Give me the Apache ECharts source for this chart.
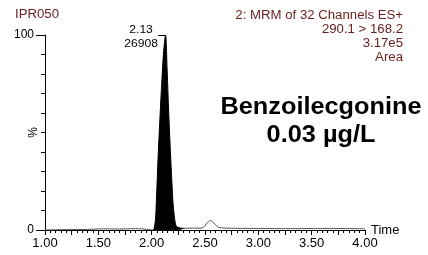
<!DOCTYPE html>
<html>
<head>
<meta charset="utf-8">
<script src="https://cdn.jsdelivr.net/npm/echarts@6/dist/echarts.min.js"></script>
<style>
  html, body { margin: 0; padding: 0; background: #fff; }
  #chart { width: 428px; height: 255px; }
</style>
</head>
<body>
<div id="chart"></div>
<script>
// retention time (min) / relative intensity (%)
var peakTimes  = [2.02, 2.035, 2.045, 2.06, 2.08, 2.095, 2.11, 2.13, 2.145, 2.16, 2.175, 2.19, 2.20, 2.215, 2.23, 2.26, 2.30];
var peakValues = [0, 5, 16, 37, 60, 76, 90, 100, 82, 60, 41, 24, 14, 6, 2, 1.2, 0.8];

var traceTimes  = [1.00, 1.20, 1.40, 1.55, 1.70, 1.85, 1.95, 2.02, 2.30, 2.38, 2.45, 2.49, 2.52, 2.55, 2.58, 2.61, 2.64, 2.75, 3.00, 3.30, 3.60, 3.90, 4.00];
var traceValues = [0, 0.2, 0.3, 0.6, 0.5, 0.7, 0.4, 0, 0.8, 1.0, 0.9, 1.6, 3.6, 4.8, 3.8, 2.0, 1.2, 0.9, 0.8, 0.7, 0.8, 0.7, 0.6];

var apexTime = 2.13;
var apexHeight = '26908';

var headerLines = ['2: MRM of 32 Channels ES+', '290.1 > 168.2', '3.17e5', 'Area'];
var compound = 'Benzoilecgonine';
var concentration = '0.03 µg/L';

var font = "'Liberation Sans', Arial, sans-serif";
var maroon = '#6b2222';
var stretch = 1.1; // the original picture is a little wider than tall

function pairs(xs, ys) {
  return xs.map(function (x, i) { return [x, ys[i]]; });
}

function label(text, x, y, size, opts) {
  opts = opts || {};
  return {
    type: 'text', x: x, y: y, scaleX: stretch, silent: true,
    style: {
      text: text, fill: opts.color || '#000',
      font: (opts.bold ? 'bold ' : '') + size + 'px ' + font,
      align: opts.align || 'left', verticalAlign: 'middle'
    }
  };
}

var myChart = echarts.init(document.getElementById('chart'));

var texts = [label('IPR050', 15, 15, 12, { color: maroon })];
headerLines.forEach(function (line, i) {
  texts.push(label(line, 403, 16 + i * 14, 12, { color: maroon, align: 'right' }));
});
texts.push(label(compound, 321, 108, 23, { bold: true, align: 'center' }));
texts.push(label(concentration, 321, 136, 23, { bold: true, align: 'center' }));

var option = {
  animation: false,
  textStyle: { fontFamily: font },
  grid: { left: 45, right: 63, top: 35, bottom: 25, containLabel: false },
  xAxis: {
    type: 'value', min: 1, max: 4, interval: 0.25,
    name: 'Time', nameLocation: 'end', nameGap: 6, nameMoveOverlap: false,
    nameTextStyle: { color: '#000', fontSize: 13, fontFamily: font },
    axisLine: { lineStyle: { color: '#000', width: 1 } },
    axisTick: { length: 5, lineStyle: { color: '#000' } },
    minorTick: { show: true, splitNumber: 5, length: 3, lineStyle: { color: '#000' } },
    splitLine: { show: false },
    axisLabel: {
      color: '#000', fontSize: 13, margin: 7,
      formatter: function (v) { return Math.abs(v * 2 - Math.round(v * 2)) < 1e-6 ? v.toFixed(2) : ''; }
    }
  },
  yAxis: [
    {
      type: 'value', min: 0, max: 100, interval: 10,
      name: '%', nameLocation: 'middle', nameGap: 5, nameRotate: 90, nameMoveOverlap: false,
      nameTextStyle: { color: '#000', fontSize: 12, fontFamily: font },
      axisLine: { show: true, lineStyle: { color: '#000', width: 1 } },
      axisTick: { length: 4, lineStyle: { color: '#000' } },
      splitLine: { show: false },
      axisLabel: { show: false }
    },
    {
      type: 'value', min: 0, max: 100, interval: 100, position: 'left',
      axisLine: { show: false },
      axisTick: { length: 9, lineStyle: { color: '#000' } },
      splitLine: { show: false },
      axisLabel: { color: '#000', fontSize: 12, margin: 11 }
    }
  ],
  series: [
    {
      type: 'line', data: pairs(traceTimes, traceValues), showSymbol: false, smooth: 0.4,
      lineStyle: { color: '#555', width: 1 }, z: 2
    },
    {
      type: 'line', data: pairs(peakTimes, peakValues), showSymbol: false, smooth: 0.3,
      lineStyle: { color: '#000', width: 1 },
      areaStyle: { color: '#000', opacity: 1 }, z: 3,
      markLine: {
        silent: true, symbol: 'none', animation: false,
        lineStyle: { color: '#000', width: 1, type: 'solid' },
        label: { show: false },
        data: [[{ coord: [2.06, 100] }, { coord: [apexTime, 100] }]]
      }
    }
  ]
};
myChart.setOption(option);

// apex annotation, placed from the axis scales
var start = myChart.convertToPixel({ gridIndex: 0 }, [2.06, 100]);
texts.push(label(apexTime.toFixed(2), start[0] - 17, start[1] - 5, 11, { align: 'center' }));
texts.push(label(apexHeight, start[0] - 17, start[1] + 9, 11, { align: 'center' }));
myChart.setOption({ graphic: texts });
</script>
</body>
</html>
